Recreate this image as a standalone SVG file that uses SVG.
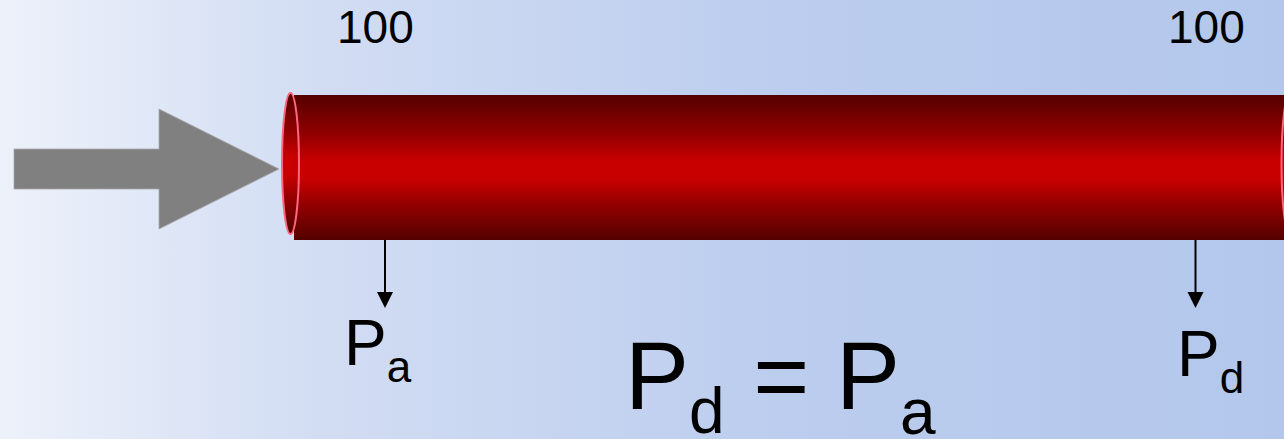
<svg xmlns="http://www.w3.org/2000/svg" width="1284" height="439" viewBox="0 0 1284 439">
<defs>
<linearGradient id="bg" x1="0" y1="0" x2="1" y2="0">
<stop offset="0" stop-color="#edf1fa"/>
<stop offset="0.25" stop-color="#d2ddf3"/>
<stop offset="0.6" stop-color="#bccdee"/>
<stop offset="1" stop-color="#b3c7ec"/>
</linearGradient>
<linearGradient id="tube" x1="0" y1="0" x2="0" y2="1">
<stop offset="0" stop-color="#540000"/>
<stop offset="0.28" stop-color="#940000"/>
<stop offset="0.45" stop-color="#c80000"/>
<stop offset="0.58" stop-color="#c80000"/>
<stop offset="0.75" stop-color="#940000"/>
<stop offset="1" stop-color="#540000"/>
</linearGradient>
<style>
.t{font-family:"Liberation Sans",Arial,sans-serif;fill:#000}
.rim{fill:url(#tube);stroke:#ff6680;stroke-width:2}
.conn{stroke:#000;stroke-width:2;fill:none}
</style>
</defs>
<rect x="0" y="0" width="1284" height="439" fill="url(#bg)"/>
<g id="flow-arrow">
<polygon points="14,149 159,149 159,109 279,169 159,229 159,189 14,189" fill="#808080" stroke="#a8a8a8" stroke-width="0.8"/>
</g>
<g id="tube-node">
<rect x="294" y="95" width="1010" height="145" fill="url(#tube)"/>
<ellipse class="rim" cx="290.5" cy="163.5" rx="8.5" ry="70.5"/>
<ellipse class="rim" cx="1290" cy="163.5" rx="8.5" ry="70.5"/>
</g>
<g id="connectors">
<line class="conn" x1="385" y1="240" x2="385" y2="294"/>
<path d="M377,292 L393,292 L385,308 Z" fill="#000"/>
<line class="conn" x1="1195.5" y1="240" x2="1195.5" y2="294"/>
<path d="M1187.5,292 L1203.5,292 L1195.5,308 Z" fill="#000"/>
</g>
<g id="label-100-left"><text class="t" x="337" y="43" font-size="46">100</text></g>
<g id="label-100-right"><text class="t" x="1168" y="43" font-size="46">100</text></g>
<g id="label-pa"><text class="t" x="344" y="365" font-size="64">P<tspan font-size="44" y="382">a</tspan></text></g>
<g id="label-pd"><text class="t" x="1177" y="376" font-size="64">P<tspan font-size="44" y="393">d</tspan></text></g>
<g id="formula"><text class="t" x="625" y="409" font-size="96">P<tspan font-size="64" y="433">d</tspan><tspan y="409" dx="2"> = P</tspan><tspan font-size="64" y="434">a</tspan></text></g>
</svg>
